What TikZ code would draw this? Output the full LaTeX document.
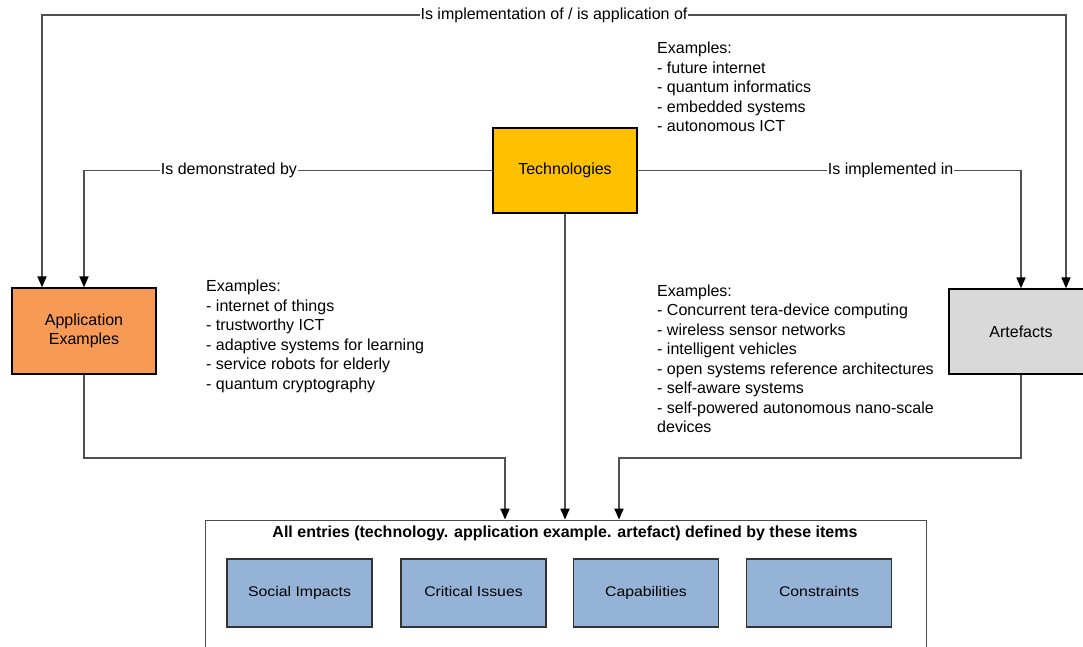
\documentclass[tikz,border=0pt]{standalone}
\usepackage{fontspec}
\setmainfont{Liberation Sans}
\newfontfamily\widesans[FakeStretch=1.13]{Liberation Sans}
\usetikzlibrary{arrows.meta}

\definecolor{techfill}{HTML}{FFC000}
\definecolor{appfill}{HTML}{F79A55}
\definecolor{artfill}{HTML}{D9D9D9}
\definecolor{itemfill}{HTML}{95B3D7}
\definecolor{linegrey}{HTML}{505050}

\tikzset{
  box/.style={draw=black, line width=1.3pt, minimum width=144pt, minimum height=85pt,
    align=center, inner sep=0pt, font=\fontsize{16}{18.5}\selectfont},
  itembox/.style={draw=black!80, fill=itemfill, line width=1.1pt, minimum width=145pt,
    minimum height=68pt, inner sep=0pt, text height=10pt, text depth=3pt,
    font=\widesans\fontsize{14}{16}\selectfont},
  link/.style={draw=linegrey, line width=1.8pt},
  arrowdown/.style={-{Triangle[width=9pt,length=11pt,color=black]}},
  arrowboth/.style={{Triangle[width=9pt,length=11pt,color=black]}-{Triangle[width=9pt,length=11pt,color=black]}},
  edgelabel/.style={fill=white, inner sep=0.8pt, font=\fontsize{16}{18}\selectfont},
  examples/.style={anchor=north west, align=left, inner sep=0pt, font=\fontsize{16}{19.5}\selectfont},
}

\begin{document}
\begin{tikzpicture}[x=1pt, y=-1pt]
\useasboundingbox (0,0) rectangle (1083,647);

% main boxes
\node (tech) [box, fill=techfill] at (565,170.5) {Technologies};
\node (app) [box, fill=appfill, minimum height=86pt] at (84,331) {Application\\Examples};
\node (art) [box, fill=artfill] at (1021,331.5) {Artefacts};

% container with the items
\node (entries) [draw=black!70, line width=0.8pt, minimum width=721pt, minimum height=150pt, inner sep=0pt] at (565.5,595) {};
\node (title) [font=\bfseries\fontsize{16}{18}\selectfont] at (565,533) {All entries (technology. application example. artefact) defined by these items};
\node (social) [itembox] at (299.5,593) {Social Impacts};
\node (critical) [itembox] at (473.5,593) {Critical Issues};
\node (capab) [itembox] at (646,593) {Capabilities};
\node (constr) [itembox] at (819,593) {Constraints};

% examples
\node (techex) [examples] at (657,42) {Examples:\\- future internet\\- quantum informatics\\- embedded systems\\- autonomous ICT};
\node (appex) [examples] at (206,280) {Examples:\\- internet of things\\- trustworthy ICT\\- adaptive systems for learning\\- service robots for elderly\\- quantum cryptography};
\node (artex) [examples] at (657,284.5) {Examples:\\- Concurrent tera-device computing\\- wireless sensor networks\\- intelligent vehicles\\- open systems reference architectures\\- self-aware systems\\- self-powered autonomous nano-scale\\devices};

% connectors
\coordinate (topleft) at (42,15);
\coordinate (topright) at (1066,15);
\coordinate (mergeleft) at (505,458);
\coordinate (mergeright) at (619,458);

\draw [link, arrowboth] (app.north -| topleft) -- (topleft) -- node[edgelabel]{Is implementation of / is application of} (topright) -- (art.north -| topright);
\draw [link, arrowdown] (tech.west) -- node[edgelabel, pos=0.645]{Is demonstrated by} (tech.west -| app.north) -- (app.north);
\draw [link, arrowdown] (tech.east) -- node[edgelabel, pos=0.66]{Is implemented in} (tech.east -| art.north) -- (art.north);

\draw [link, arrowdown] (app.south) |- (mergeleft) -- (mergeleft |- entries.north);
\draw [link, arrowdown] (tech.south) -- (tech.south |- entries.north);
\draw [link, arrowdown] (art.south) |- (mergeright) -- (mergeright |- entries.north);
\end{tikzpicture}
\end{document}
